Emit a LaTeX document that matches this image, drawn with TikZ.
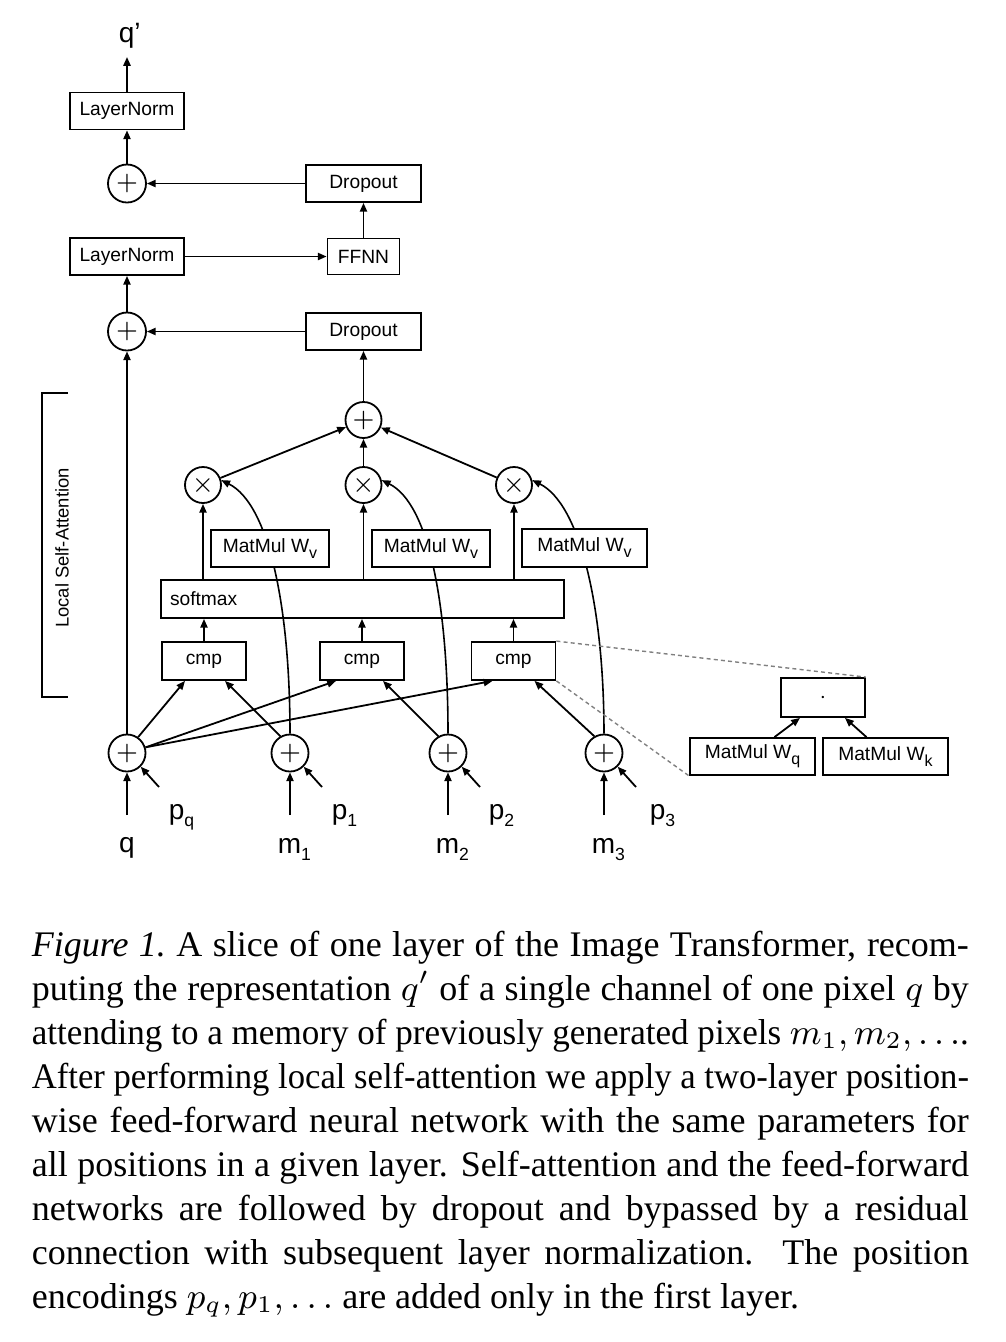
\documentclass[tikz,border=0pt]{standalone}
\usepackage{fontspec}
\usepackage{graphicx}
\setmainfont{Liberation Serif}
\setsansfont{Liberation Sans}
\usetikzlibrary{arrows.meta,calc,backgrounds}
\newcommand{\sbs}[1]{\raisebox{-1.5pt}{\fontsize{4}{4}\selectfont #1}}
\newcommand{\lsb}[1]{\raisebox{-1.9pt}{\fontsize{4.4}{5}\selectfont #1}}
\newlength\capw \setlength\capw{234.25pt}
\newsavebox\capbox
\newcommand{\capline}[1]{\spaceskip=0pt\xspaceskip=0pt\sbox\capbox{#1}\ifdim\wd\capbox>\capw
  \noindent\resizebox{\capw}{\height}{\usebox\capbox}\else
  \noindent\hbox to\capw{#1}\fi\par}
\begin{document}
\begin{tikzpicture}[x=0.25pt,y=-0.25pt, line width=0.45pt,
  arr/.style={-{Triangle[length=2.2pt,width=1.8pt]}},
  box/.style={draw, fill=white, inner sep=0pt, minimum height=9.25pt, font=\sffamily\fontsize{4.8}{5}\selectfont},
  opc/.style={draw, circle, fill=white, inner sep=0pt, minimum size=9.5pt, font=\fontsize{6.5}{7}\selectfont},
  lbl/.style={font=\sffamily\fontsize{7}{8}\selectfont, inner sep=0pt},
  dsh/.style={draw=gray, dash pattern=on 1pt off 0.8pt, line width=0.35pt}
]
\useasboundingbox (0,0) rectangle (1006,1342);

% upper column
\node[box, minimum width=28.5pt] (ln1) at (127,111) {LayerNorm};
\node[opc] (pa) at (127,183.5) {$+$};
\node[box, minimum width=28.75pt] (do1) at (363.5,183.5) {Dropout};
\node[box, minimum width=28.5pt] (ln2) at (127,256.5) {LayerNorm};
\node[box, minimum width=18pt, minimum height=9pt] (ff) at (363.5,256.5) {FFNN};
\node[opc] (pb) at (127,331.5) {$+$};
\node[box, minimum width=28.75pt] (do2) at (363.5,331.5) {Dropout};
\node[opc, minimum size=9pt] (sum) at (363.5,420) {$+$};

\node[opc, minimum size=9pt, font=\fontsize{6}{6}\selectfont] (x1) at (203,485) {$\times$};
\node[opc, minimum size=9pt, font=\fontsize{6}{6}\selectfont] (x2) at (363.5,485) {$\times$};
\node[opc, minimum size=9pt, font=\fontsize{6}{6}\selectfont] (x3) at (514,485) {$\times$};

\node[box, minimum width=100.75pt, minimum height=9.5pt, fill=none, text width=96.25pt, align=left] (sm) at (362.5,599) {softmax};

\node[box, minimum width=21pt, minimum height=9.5pt] (c1) at (204,661) {cmp};
\node[box, minimum width=21pt, minimum height=9.5pt] (c2) at (362,661) {cmp};
\node[box, minimum width=21pt, minimum height=9.5pt] (c3) at (513.5,661) {cmp};

\node[opc, minimum size=9.25pt] (b0) at (127,753) {$+$};
\node[opc, minimum size=9.25pt] (b1) at (290,753) {$+$};
\node[opc, minimum size=9.25pt] (b2) at (448,753) {$+$};
\node[opc, minimum size=9.25pt] (b3) at (604,753) {$+$};

% curves from memory inputs to the multiplications (behind the MatMul boxes)
\begin{scope}[on background layer]
\draw[arr] (b1.north) .. controls ($(b1.north)+(0,-126)$) and ($(x1.15)+(48,24)$) .. (x1.15);
\draw[arr] (b2.north) .. controls ($(b2.north)+(0,-126)$) and ($(x2.15)+(48,24)$) .. (x2.15);
\draw[arr] (b3.north) .. controls ($(b3.north)+(0,-126)$) and ($(x3.15)+(48,24)$) .. (x3.15);
\end{scope}

\node[box, minimum width=29.5pt] (mv1) at (270,548.5) {MatMul W\sbs{v}};
\node[box, minimum width=29.5pt] (mv2) at (431,548.5) {MatMul W\sbs{v}};
\node[box, minimum width=31.25pt, minimum height=9.5pt] (mv3) at (584.5,548) {MatMul W\sbs{v}};

% inset
\node[box, minimum width=21pt, minimum height=9.75pt] (dot) at (823,697.5) {$\cdot$};
\node[box, minimum width=31.25pt] (mq) at (752.5,756.5) {MatMul W\sbs{q}};
\node[box, minimum width=31.25pt] (mk) at (885.5,756.5) {MatMul W\sbs{k}};

% labels
\coordinate (qtop) at (127,57);
\node[lbl, anchor=base west] (qp) at (118,42) {q’};
\node[lbl, anchor=base] (lq) at (127,852) {q};
\node[lbl, anchor=base west] (lm1) at (277,853) {m\lsb{1}};
\node[lbl, anchor=base west] (lm2) at (435,853) {m\lsb{2}};
\node[lbl, anchor=base west] (lm3) at (591,853) {m\lsb{3}};
\node[lbl, anchor=base west] (lpq) at (168,819) {p\lsb{q}};
\node[lbl, anchor=base west] (lp1) at (331,819) {p\lsb{1}};
\node[lbl, anchor=base west] (lp2) at (488,819) {p\lsb{2}};
\node[lbl, anchor=base west] (lp3) at (649,819) {p\lsb{3}};

\coordinate (iq) at (127,815);   \coordinate (ipq) at (159,787);
\coordinate (i1) at (290,815);   \coordinate (ip1) at (322,787);
\coordinate (i2) at (448,815);   \coordinate (ip2) at (480,787);
\coordinate (i3) at (604,815);   \coordinate (ip3) at (636,787);

% upper connectors
\draw[arr] (ln1.north) -- (qtop);
\draw[arr] (pa) -- (ln1);
\draw[arr] (do1) -- (pa);
\draw[arr] (ff) -- (do1);
\draw[arr] (ln2) -- (ff);
\draw[arr] (pb) -- (ln2);
\draw[arr] (do2) -- (pb);
\draw[arr] (sum) -- (do2);
\draw[arr] (b0.north) -- (pb.south);

\draw[arr] (x1) -- (sum);
\draw[arr] (x2) -- (sum);
\draw[arr] (x3) -- (sum);

\draw[arr] (sm.north -| x1) -- (x1);
\draw[arr] (sm.north -| x2) -- (x2);
\draw[arr] (sm.north -| x3) -- (x3);

\draw[arr] (c1.north) -- (c1.north |- sm.south);
\draw[arr] (c2.north) -- (c2.north |- sm.south);
\draw[arr] (c3.north) -- (c3.north |- sm.south);

% to the comparisons
\draw[arr] (b0.55) -- ($(c1.south)+(-19,0)$);
\draw[arr] (b0.17) -- ($(c2.south)+(-26,0)$);
\draw[arr] (b0.17) -- ($(c3.south)+(-21,0)$);
\draw[arr] (b1.120) -- ($(c1.south)+(21,0)$);
\draw[arr] (b2.120) -- ($(c2.south)+(21,0)$);
\draw[arr] (b3.120) -- ($(c3.south)+(21,0)$);

% inputs
\draw[arr] (iq) -- (b0.south);  \draw[arr] (ipq) -- (b0.-45);
\draw[arr] (i1) -- (b1.south);  \draw[arr] (ip1) -- (b1.-45);
\draw[arr] (i2) -- (b2.south);  \draw[arr] (ip2) -- (b2.-45);
\draw[arr] (i3) -- (b3.south);  \draw[arr] (ip3) -- (b3.-45);

% inset connectors
\draw[dsh] (c3.north east) -- (dot.north east);
\draw[dsh] (c3.south east) -- (mq.south west);
\draw[arr] ($(mq.north)+(22,0)$) -- ($(dot.south)+(-23,0)$);
\draw[arr] ($(mk.north)+(-19,0)$) -- ($(dot.south)+(22,0)$);

% bracket
\draw (68,393) -- (42,393) -- (42,697) -- (68,697);
\node[rotate=90, inner sep=0pt, font=\sffamily\fontsize{4.6}{5}\selectfont] (lsa) at (62,548) {Local Self-Attention};

% caption
\node[anchor=north west, inner sep=0pt, text width=234.25pt, align=justify, font=\fontsize{9}{11}\selectfont] (cap) at (31,930) {%
\capline{\textit{Figure 1.}\ A slice of one layer of the Image Transformer, recom-}%
\capline{puting the representation $q'$ of a single channel of one pixel $q$ by}%
\capline{attending to a memory of previously generated pixels $m_1, m_2, \ldots$.}%
\capline{After performing local self-attention we apply a two-layer position-}%
\capline{wise feed-forward neural network with the same parameters for}%
\capline{all positions in a given layer. Self-attention and the feed-forward}%
\capline{networks are followed by dropout and bypassed by a residual}%
\capline{connection with subsequent layer normalization. The position}%
\noindent\hbox{encodings $p_q, p_1, \ldots$ are added only in the first layer.}};
\end{tikzpicture}
\end{document}
